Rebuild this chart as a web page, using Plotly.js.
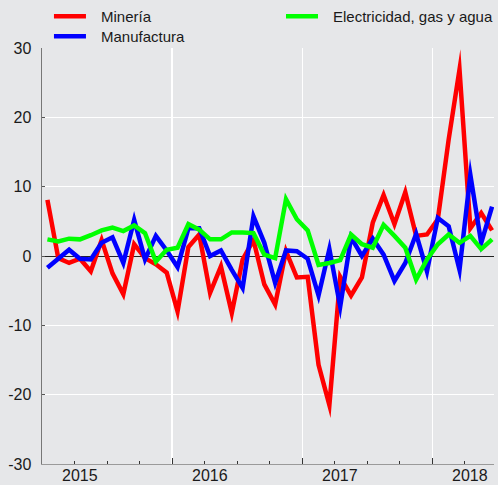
<!DOCTYPE html>
<html>
<head>
<meta charset="utf-8">
<script src="https://cdn.plot.ly/plotly-3.0.1.min.js"></script>
<style>
  html, body { margin: 0; padding: 0; background: rgb(230,231,233); }
  #chart { width: 498px; height: 485px; }
  .scatterlayer path.js-line { stroke-linejoin: miter !important; stroke-miterlimit: 20 !important; }
  .legendlines path { stroke-dasharray: 32px 400px !important; }
</style>
</head>
<body>
<div id="chart"></div>
<script>
const months = [
  '2015-01','2015-02','2015-03','2015-04','2015-05','2015-06','2015-07','2015-08','2015-09','2015-10','2015-11','2015-12',
  '2016-01','2016-02','2016-03','2016-04','2016-05','2016-06','2016-07','2016-08','2016-09','2016-10','2016-11','2016-12',
  '2017-01','2017-02','2017-03','2017-04','2017-05','2017-06','2017-07','2017-08','2017-09','2017-10','2017-11','2017-12',
  '2018-01','2018-02','2018-03','2018-04','2018-05','2018-06'
];
const mineria = [8.1, -0.3, -1.0, -0.4, -2.2, 2.3, -2.5, -5.5, 1.7, -0.3, -1.2, -2.4,
  -8.0, 1.3, 3.1, -5.3, -1.5, -8.2, -0.5, 2.3, -4.1, -7.0, 0.7, -3.1,
  -3.0, -15.7, -21.5, -3.0, -5.7, -3.1, 4.8, 8.8, 4.6, 9.2, 2.9, 3.1,
  5.3, 16.8, 26.9, 4.0, 6.2, 3.7];
const manufactura = [-1.7, -0.4, 0.9, -0.4, -0.5, 1.9, 2.7, -1.0, 5.2, -0.5, 2.9, 0.8,
  -1.6, 4.0, 4.0, 0.0, 0.8, -2.0, -4.6, 5.7, 1.9, -3.9, 0.8, 0.7,
  -0.4, -5.7, 1.0, -7.3, 2.7, 0.0, 2.5, 0.2, -3.6, -1.0, 3.2, -2.2,
  5.5, 4.3, -2.0, 11.7, 1.9, 7.1];
const electricidad = [2.4, 2.1, 2.5, 2.4, 3.0, 3.7, 4.1, 3.6, 4.4, 3.3, -0.8, 0.9,
  1.2, 4.6, 3.8, 2.4, 2.4, 3.4, 3.4, 3.3, 0.2, -0.3, 8.2, 5.3,
  3.7, -1.3, -1.0, -0.6, 3.1, 1.7, 1.2, 4.5, 2.9, 1.2, -3.4, -0.5,
  1.7, 3.1, 1.9, 2.9, 1.0, 2.4];
const seriesNames = ['Minería', 'Manufactura', 'Electricidad, gas y agua'];
const years = ['2015', '2016', '2017', '2018'];
const yTicks = [-30, -20, -10, 0, 10, 20, 30];

const idx = months.map((m, i) => i);
const font = 'Liberation Sans, Arial, sans-serif';
const bg = 'rgb(230,231,233)';

// Year boundaries (between December and January) and label positions (April)
const yearBounds = years.map(y => months.indexOf(y + '-01') - 0.5);
const yearLabelPos = years.map(y => months.indexOf(y + '-04'));

const traces = [
  { x: idx, y: mineria, name: seriesNames[0], type: 'scatter', mode: 'lines',
    line: { color: '#ff0000', width: 4.5 }, legend: 'legend' },
  { x: idx, y: manufactura, name: seriesNames[1], type: 'scatter', mode: 'lines',
    line: { color: '#0000ff', width: 4.5 }, legend: 'legend3' },
  { x: idx, y: electricidad, name: seriesNames[2], type: 'scatter', mode: 'lines',
    line: { color: '#00ff00', width: 4.5 }, legend: 'legend2' }
];

const legendBase = {
  xanchor: 'left', yanchor: 'top', orientation: 'v', itemwidth: 42,
  bgcolor: 'rgba(0,0,0,0)', borderwidth: 0,
  font: { size: 15, family: font, color: '#1a1a1a' }
};

const layout = {
  width: 498, height: 485,
  margin: { l: 42, r: 0, t: 48, b: 21, pad: 0 },
  paper_bgcolor: bg, plot_bgcolor: bg,
  font: { family: font, size: 16, color: '#1a1a1a' },
  showlegend: true,
  legend: Object.assign({}, legendBase, { x: 0.0154, y: 1.1156 }),
  legend2: Object.assign({}, legendBase, { x: 0.529, y: 1.1156 }),
  legend3: Object.assign({}, legendBase, { x: 0.0154, y: 1.0675 }),
  xaxis: {
    range: [-0.5, 41.18], fixedrange: true,
    tickmode: 'array', tickvals: yearBounds, ticktext: years.map(() => ''),
    ticks: 'inside', ticklen: 6, tickwidth: 1, tickcolor: '#333',
    showgrid: true, gridcolor: '#ffffff', gridwidth: 1.5,
    minor: { tickmode: 'linear', tick0: -0.5, dtick: 3, ticks: 'inside', ticklen: 3,
      tickwidth: 1, tickcolor: '#333', showgrid: false },
    showline: true, linecolor: '#9a9a9a', linewidth: 1,
    zeroline: false
  },
  yaxis: {
    range: [-30, 30], fixedrange: true,
    tickmode: 'array', tickvals: yTicks, ticktext: yTicks.map(String),
    ticks: 'inside', ticklen: 3, tickwidth: 1, tickcolor: '#555',
    showgrid: true, gridcolor: '#ffffff', gridwidth: 1.5,
    showline: true, linecolor: '#777', linewidth: 1.5,
    zeroline: true, zerolinecolor: '#222', zerolinewidth: 1,
    ticklabelstandoff: 6,
    tickfont: { size: 16, family: font, color: '#1a1a1a' }
  },
  annotations: years.map((y, i) => ({
    x: yearLabelPos[i], xref: 'x', y: 0, yref: 'paper',
    yanchor: 'top', xanchor: 'center', yshift: -1,
    text: y, showarrow: false,
    font: { size: 16, family: font, color: '#1a1a1a' }
  }))
};

Plotly.newPlot('chart', traces, layout, { displayModeBar: false, staticPlot: true });
</script>
</body>
</html>
